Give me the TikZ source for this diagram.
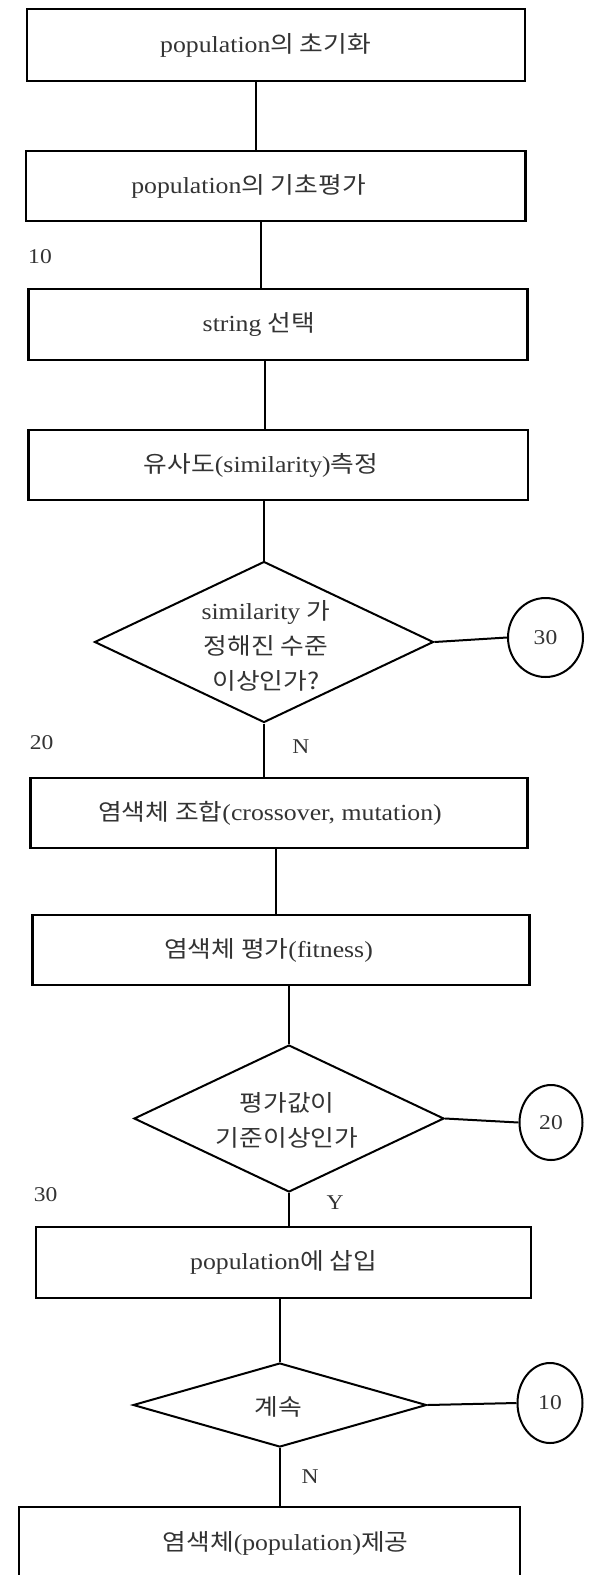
\documentclass[tikz,border=0pt]{standalone}
\usepackage{fontspec}
\setmainfont{Liberation Serif}[FakeStretch=1.12]
\newfontfamily\kr{Noto Sans CJK KR}[FakeStretch=1.12]
\usetikzlibrary{shapes.geometric}
\newcommand\hgl[1]{{\kr #1}}
\begin{document}
\begin{tikzpicture}[x=1pt,y=-1pt,
  box/.style={draw, rectangle, line width=2.4pt, inner sep=0pt},
  dia/.style={draw, diamond, line width=2pt, inner sep=0pt},
  conn/.style={draw, ellipse, line width=2pt, inner sep=0pt, font=\fontsize{21}{24}\selectfont, text=black!80},
  txt/.style={font=\fontsize{23}{35}\selectfont, align=center, text=black!80, inner sep=0pt},
  lbl/.style={font=\fontsize{21}{25}\selectfont, text=black!80, inner sep=0pt},
  link/.style={line width=2pt}]
\fill[white] (0,0) rectangle (597,1575);
\clip (0,0) rectangle (597,1575);

% boxes
\node[box, minimum width=498pt, minimum height=72pt] (b1) at (275.7,45) {};
\node[box, minimum width=499.5pt, minimum height=70pt] (b2) at (275.8,186) {};
\node[box, minimum width=499pt, minimum height=71pt] (b3) at (278,324.5) {};
\node[box, minimum width=499.4pt, minimum height=70pt] (b4) at (278.3,465) {};
\node[dia, minimum width=339pt, minimum height=161pt] (d1) at (264,642) {};
\node[conn, minimum width=75pt, minimum height=79pt] (c30) at (545.5,637.5) {30};
\node[box, minimum width=497pt, minimum height=70pt] (b6) at (279,813) {};
\node[box, minimum width=497pt, minimum height=70pt] (b7) at (280.9,950) {};
\node[dia, minimum width=310pt, minimum height=147pt] (d2) at (289,1118.5) {};
\node[conn, minimum width=63pt, minimum height=75pt] (c20) at (551,1122.5) {20};
\node[box, minimum width=495pt, minimum height=71pt] (b9) at (283.5,1262.5) {};
\node[dia, minimum width=293.5pt, minimum height=84pt] (d3) at (279.8,1405) {};
\node[conn, minimum width=65pt, minimum height=80pt] (c10) at (550,1403) {10};
\node[box, minimum width=501pt, minimum height=73pt] (b11) at (269.5,1543.5) {};

% texts
\node[txt] (t1) at (265.6,45) {population\hgl{의 초기화}};
\node[txt] (t2) at (248.5,186) {population\hgl{의 기초평가}};
\node[txt] (t3) at (259,324.5) {string \hgl{선택}};
\node[txt] (t4) at (261,465) {\hgl{유사도}(similarity)\hgl{측정}};
\node[txt] (t5) at (266,646) {similarity \hgl{가}\\\hgl{정해진 수준}\\\hgl{이상인가?}};
\node[txt] (t6) at (270,813) {\hgl{염색체 조합}(crossover, mutation)};
\node[txt] (t7) at (268.5,950) {\hgl{염색체 평가}(fitness)};
\node[txt] (t8) at (287,1120.5) {\hgl{평가값이}\\\hgl{기준이상인가}};
\node[txt] (t9) at (283.7,1262.5) {population\hgl{에 삽입}};
\node[txt] (t10) at (278,1407) {\hgl{계속}};
\node[txt] (t11) at (285.6,1543) {\hgl{염색체}(population)\hgl{제공}};

% labels
\node[lbl] (l10) at (40,257) {10};
\node[lbl] (l20) at (41.6,743) {20};
\node[lbl] (l30) at (45.7,1195) {30};
\node[lbl] (n1) at (300.8,747) {N};
\node[lbl] (y2) at (335,1203) {Y};
\node[lbl] (n3) at (310,1477) {N};

% connectors
\draw[link] ([xshift=-19.7pt]b1.south) -- ([xshift=-19.7pt]b1.south |- b2.north);
\draw[link] ([xshift=-14.8pt]b2.south) -- ([xshift=-14.8pt]b2.south |- b3.north);
\draw[link] ([xshift=-12.6pt]b3.south) -- ([xshift=-12.6pt]b3.south |- b4.north);
\draw[link] (b4.south -| d1.north) -- (d1.north);
\draw[link] (d1.south) -- (d1.south |- b6.north);
\draw[link] ([xshift=-3pt]b6.south) -- ([xshift=-3pt]b6.south |- b7.north);
\draw[link] (b7.south -| d2.north) -- (d2.north);
\draw[link] (d2.south) -- (d2.south |- b9.north);
\draw[link] (b9.south -| d3.north) -- (d3.north);
\draw[link] (d3.south) -- (d3.south |- b11.north);
\draw[link] (d1.east) -- (c30.west);
\draw[link] (d2.east) -- (c20.west);
\draw[link] (d3.east) -- (c10.west);
\end{tikzpicture}
\end{document}
